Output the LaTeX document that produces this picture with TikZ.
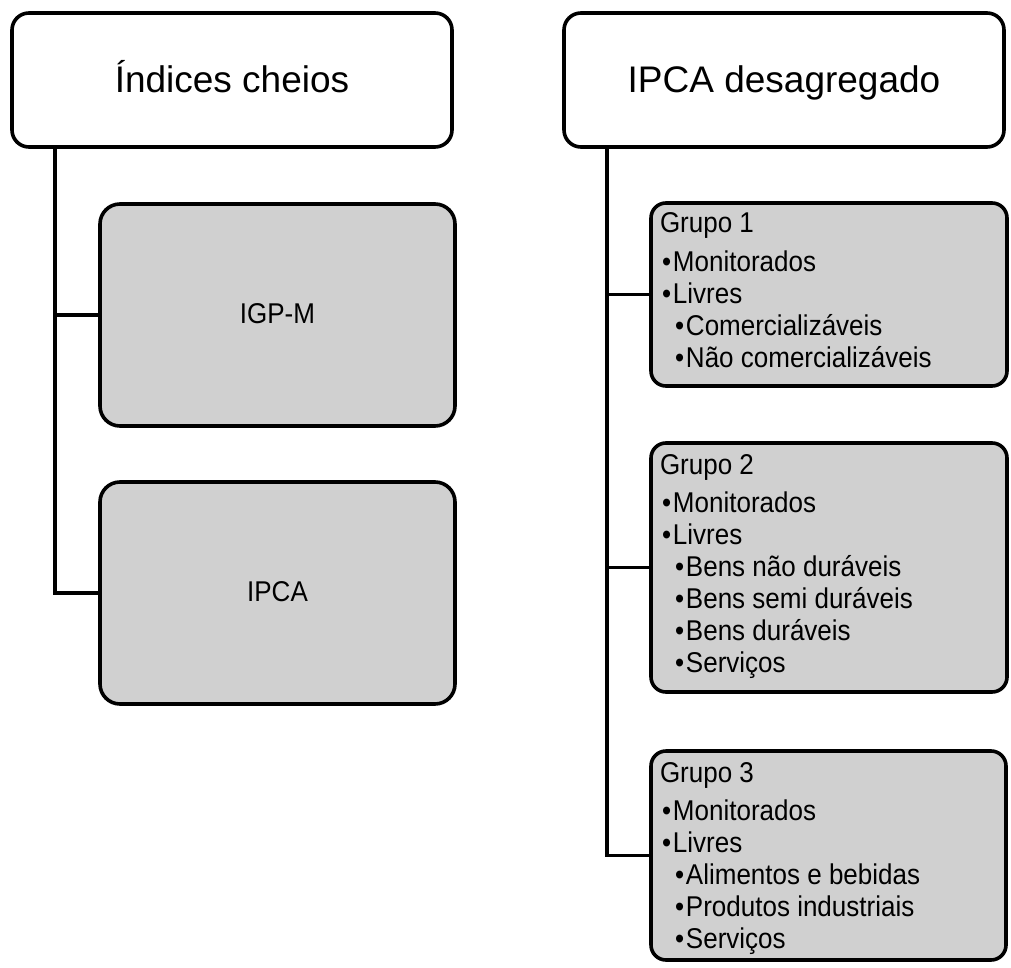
\documentclass[tikz,border=0pt]{standalone}
\usepackage{graphicx}
\usepackage{fontspec}
\setmainfont{Liberation Sans}
\definecolor{boxgray}{RGB}{208,208,208}
\newcommand{\bulA}{\hspace*{2pt}\makebox[11pt][l]{•}}
\newcommand{\bulB}{\hspace*{15pt}\makebox[11pt][l]{•}}
\newcommand{\vstretch}[1]{\scalebox{1}[1.1]{#1}}
\tikzset{
  topbox/.style={draw, line width=3.6pt, rounded corners=17pt, fill=white,
    inner sep=0pt, outer sep=0pt, font=\fontsize{37pt}{44pt}\selectfont,
    text height=30pt, text depth=4pt},
  graybox/.style={draw, line width=3.6pt, rounded corners=20pt, fill=boxgray,
    inner sep=0pt, outer sep=0pt, font=\fontsize{26pt}{31pt}\selectfont,
    text height=21pt, text depth=4pt},
  grupobox/.style={draw, line width=3.6pt, rounded corners=15pt, fill=boxgray,
    inner sep=0pt, outer sep=0pt},
  grupotext/.style={anchor=base west, inner sep=0pt, outer sep=0pt,
    font=\fontsize{26pt}{29.1pt}\selectfont},
  conn/.style={line width=3.6pt}
}
\begin{document}
\begin{tikzpicture}[x=1pt,y=-1pt]
\useasboundingbox (0,0) rectangle (1011,968);
% header boxes
\node[topbox, minimum width=440pt, minimum height=134pt] (t1) at (232,80) {Índices cheios};
\node[topbox, minimum width=440pt, minimum height=134pt] (t2) at (784,80) {IPCA desagregado};
% left children
\node[graybox, minimum width=355pt, minimum height=222pt] (igpm) at (277.5,315) {\vstretch{IGP-M}};
\node[graybox, minimum width=355pt, minimum height=222pt] (ipca) at (277.5,593) {\vstretch{IPCA}};
% right children
\node[grupobox, minimum width=356pt, minimum height=183pt] (g1) at (829,294.5) {};
\node[grupobox, minimum width=356pt, minimum height=249pt] (g2) at (829,567.5) {};
\node[grupobox, minimum width=355pt, minimum height=209pt] (g3) at (828.5,855.5) {};
\node[grupotext] (g1t) at (660,233) {\vstretch{\parbox[t]{340pt}{Grupo 1\\[5.9pt]
\bulA Monitorados\\
\bulA Livres\\
\bulB Comercializáveis\\
\bulB Não comercializáveis}}};
\node[grupotext] (g2t) at (660,474) {\vstretch{\parbox[t]{340pt}{Grupo 2\\[5.9pt]
\bulA Monitorados\\
\bulA Livres\\
\bulB Bens não duráveis\\
\bulB Bens semi duráveis\\
\bulB Bens duráveis\\
\bulB Serviços}}};
\node[grupotext] (g3t) at (660,782) {\vstretch{\parbox[t]{340pt}{Grupo 3\\[5.9pt]
\bulA Monitorados\\
\bulA Livres\\
\bulB Alimentos e bebidas\\
\bulB Produtos industriais\\
\bulB Serviços}}};
% connectors
\draw[conn] ([xshift=43pt]t1.south west) |- (igpm.west);
\draw[conn] ([xshift=43pt]t1.south west) |- (ipca.west);
\draw[conn] ([xshift=43pt]t2.south west) |- (g1.west);
\draw[conn] ([xshift=43pt]t2.south west) |- (g2.west);
\draw[conn] ([xshift=43pt]t2.south west) |- (g3.west);
\end{tikzpicture}
\end{document}
